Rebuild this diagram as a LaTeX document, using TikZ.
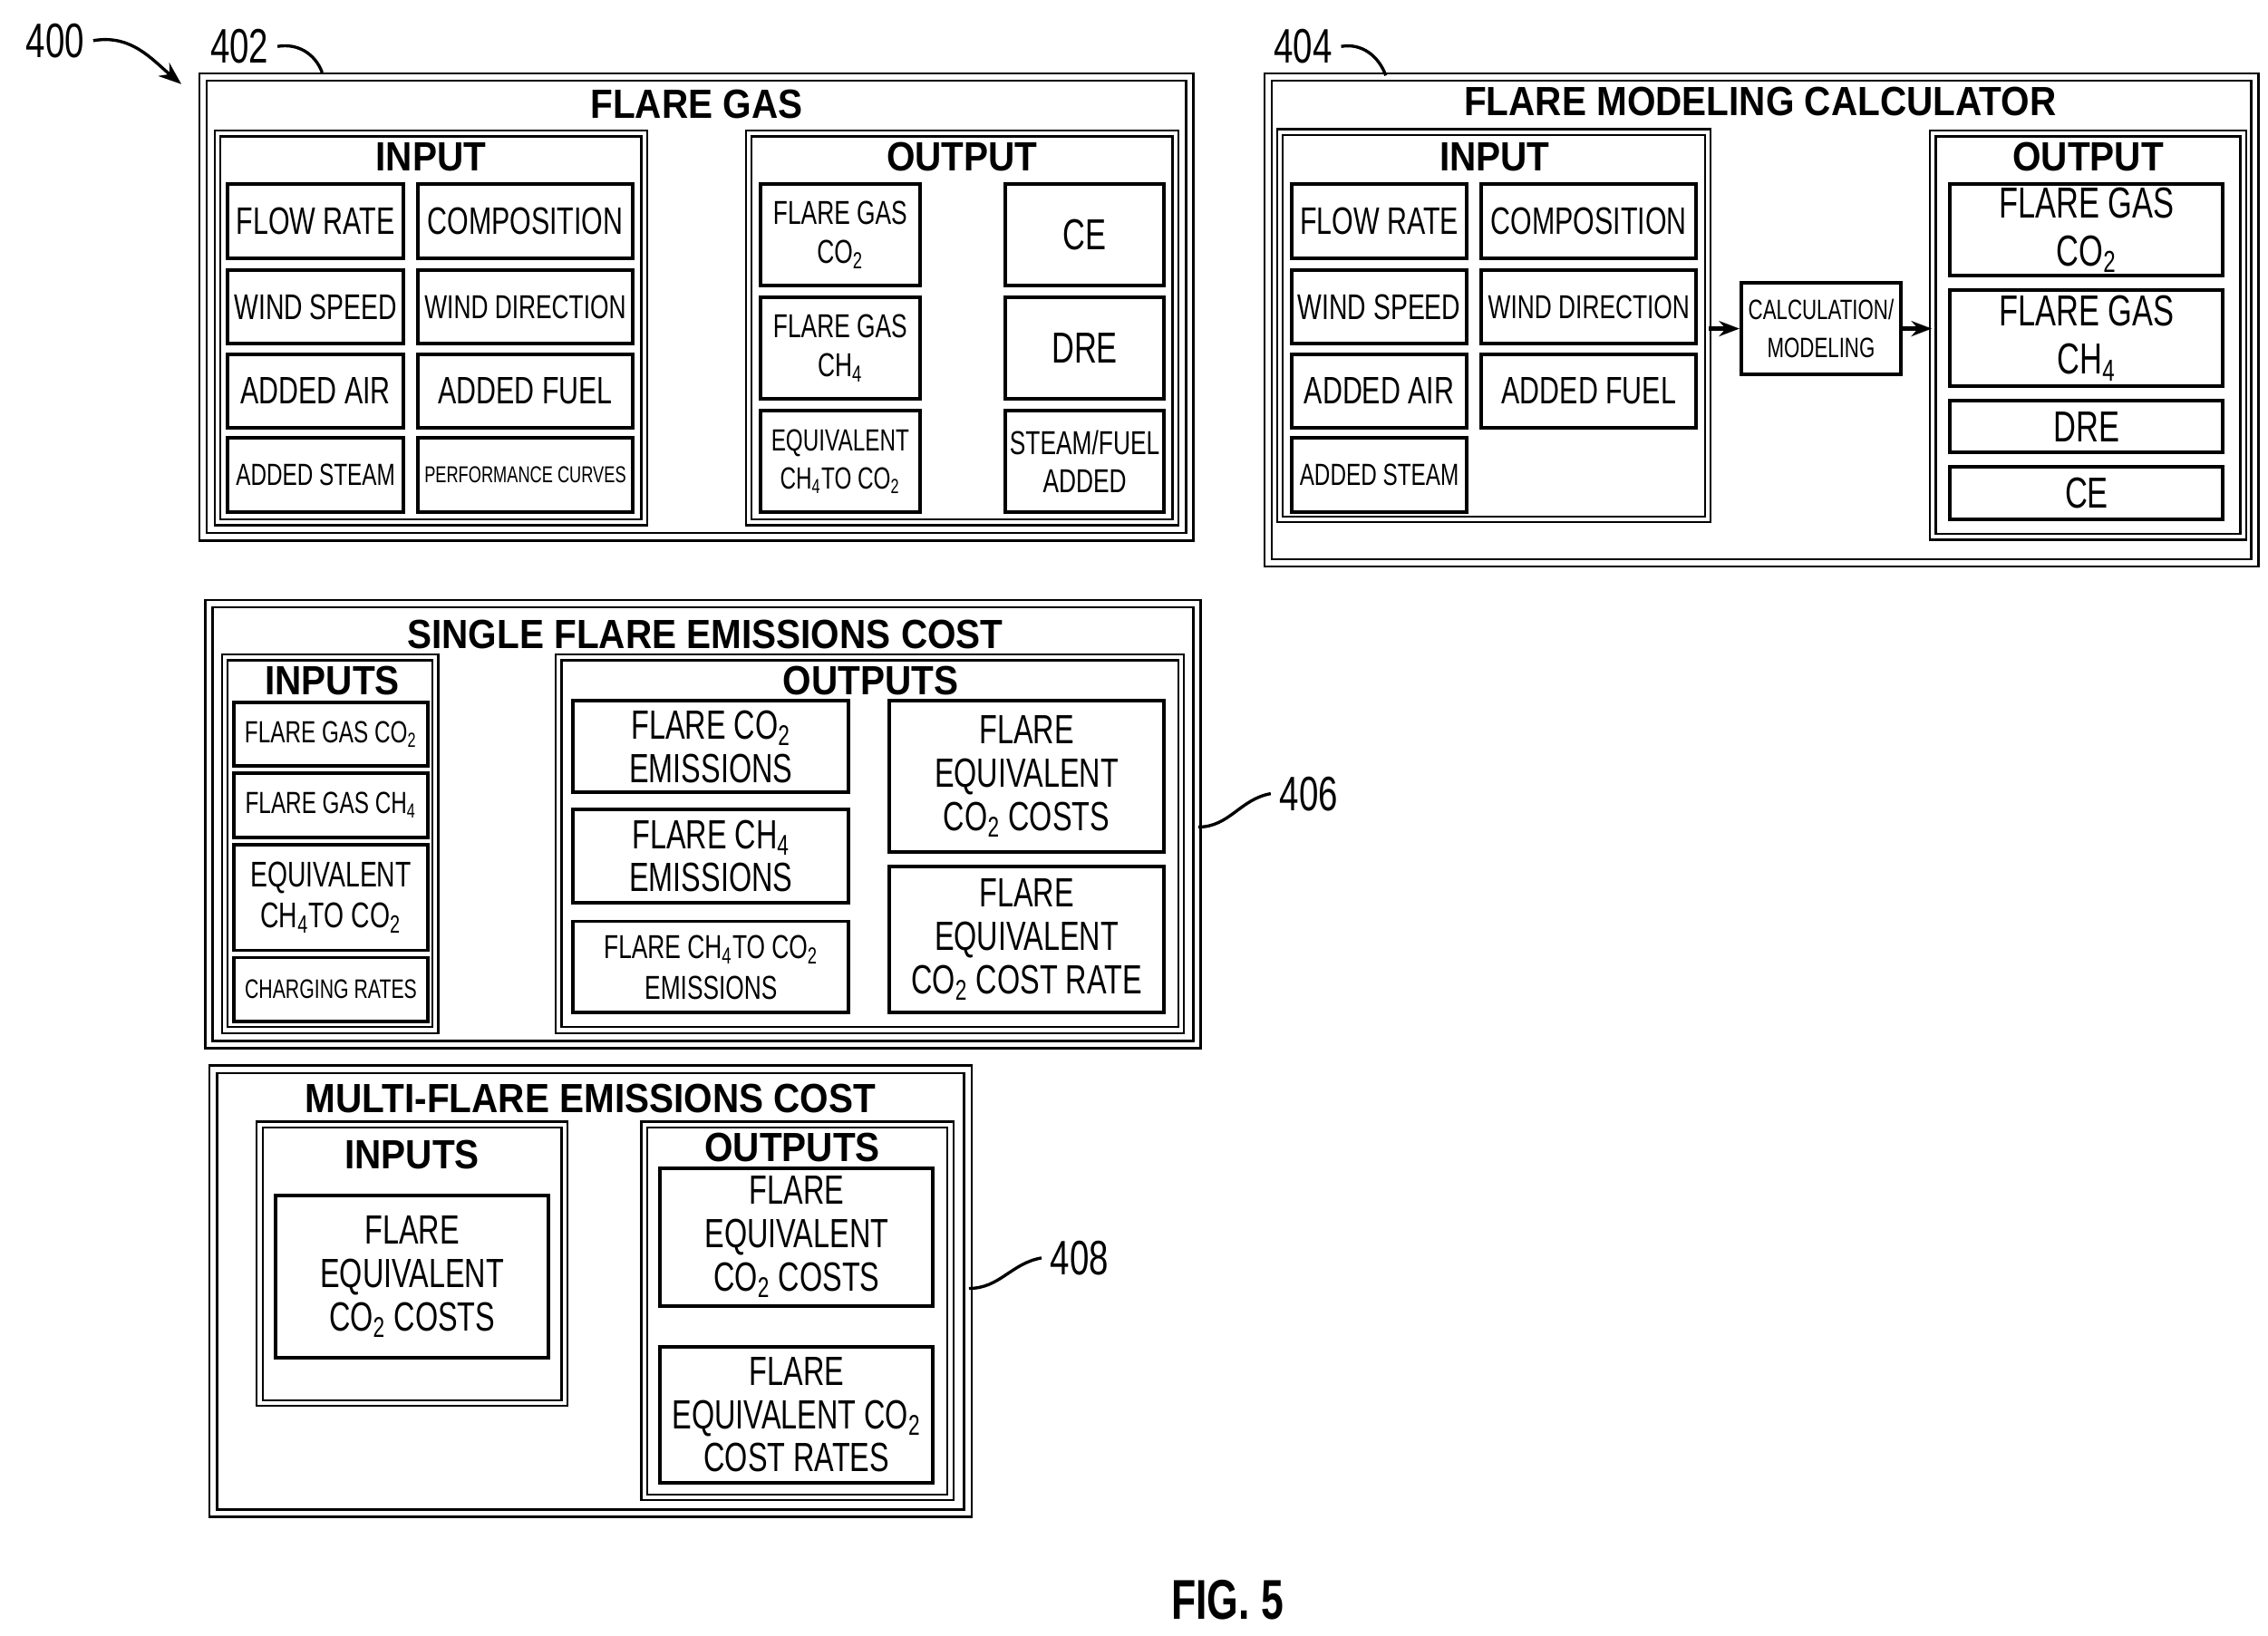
\documentclass[tikz,border=0pt]{standalone}
\usepackage{fontspec}
\setmainfont{Liberation Sans}[FakeStretch=0.72]
\newfontfamily\titlefont{Liberation Sans}[FakeStretch=0.9]
\usetikzlibrary{arrows.meta}
\newcommand{\cotwo}{CO\textsubscript{2}}
\newcommand{\chfour}{CH\textsubscript{4}}
% box from corner (x1,y1) to corner (x2,y2)
\newcommand{\cell}[7][]{%
  \pgfmathsetmacro\cw{(#5-#3)*0.02}\pgfmathsetmacro\ch{(#6-#4)*0.02}%
  \node[cell,#1,minimum width=\cw cm,minimum height=\ch cm] (#2) at ({(#3+#5)/2},{(#4+#6)/2}) {#7};}

\begin{document}
\begin{tikzpicture}[x=0.02cm,y=-0.02cm,
  cell/.style={draw,line width=1.4pt,inner sep=0pt,align=center,font=\fontsize{15}{16}\selectfont},
  group/.style={cell,line width=0.8pt,double,double distance=1.5pt},
  panel/.style={cell,line width=0.9pt,double,double distance=2pt},
  head/.style={font=\titlefont\bfseries\fontsize{16}{17}\selectfont},
  ref/.style={font=\fontsize{19}{20}\selectfont}]
  \useasboundingbox (0,0) rectangle (1563,1127);

  %% FLARE GAS
  \cell[panel]{fg}{140}{53}{820}{370}{}
  \node[head] (fgT) at (480,72) {FLARE GAS};
  \cell[group]{fgIn}{150}{92}{444}{360}{}
  \node[head] at (297,108) {INPUT};
  \cell{fgA}{157}{127}{278}{178}{FLOW RATE}
  \cell{fgB}{288}{127}{436}{178}{COMPOSITION}
  \cell[font=\fontsize{14}{15}\selectfont]{fgC}{157}{186}{278}{237}{WIND SPEED}
  \cell[font=\fontsize{13}{15}\selectfont]{fgD}{288}{186}{436}{237}{WIND DIRECTION}
  \cell{fgE}{157}{244}{278}{295}{ADDED AIR}
  \cell{fgF}{288}{244}{436}{295}{ADDED FUEL}
  \cell[font=\fontsize{12}{13}\selectfont]{fgG}{157}{302}{278}{353}{ADDED STEAM}
  \cell[font=\fontsize{9}{11}\selectfont]{fgH}{288}{302}{436}{353}{PERFORMANCE CURVES}
  \cell[group]{fgOut}{516}{92}{810}{360}{}
  \node[head] at (663,108) {OUTPUT};
  \cell[font=\fontsize{13}{15}\selectfont]{fgI}{524}{127}{634}{197}{FLARE GAS\\\cotwo}
  \cell[font=\fontsize{13}{15}\selectfont]{fgJ}{524}{205}{634}{275}{FLARE GAS\\\chfour}
  \cell[font=\fontsize{12}{15}\selectfont]{fgK}{524}{283}{634}{353}{EQUIVALENT\\\chfour TO \cotwo}
  \cell[font=\fontsize{17}{18}\selectfont]{fgL}{693}{127}{802}{197}{CE}
  \cell[font=\fontsize{17}{18}\selectfont]{fgM}{693}{205}{802}{275}{DRE}
  \cell[font=\fontsize{13}{15}\selectfont]{fgN}{693}{283}{802}{353}{STEAM/FUEL\\ADDED}

  %% FLARE MODELING CALCULATOR
  \cell[panel]{fm}{874}{53}{1554}{388}{}
  \node[head] at (1213,70) {FLARE MODELING CALCULATOR};
  \cell[group]{fmIn}{882}{91}{1177}{358}{}
  \node[head] at (1030,108) {INPUT};
  \cell{fmA}{890}{127}{1011}{178}{FLOW RATE}
  \cell{fmB}{1021}{127}{1169}{178}{COMPOSITION}
  \cell[font=\fontsize{14}{15}\selectfont]{fmC}{890}{186}{1011}{237}{WIND SPEED}
  \cell[font=\fontsize{13}{15}\selectfont]{fmD}{1021}{186}{1169}{237}{WIND DIRECTION}
  \cell{fmE}{890}{244}{1011}{295}{ADDED AIR}
  \cell{fmF}{1021}{244}{1169}{295}{ADDED FUEL}
  \cell[font=\fontsize{12}{13}\selectfont]{fmG}{890}{302}{1011}{353}{ADDED STEAM}
  \cell[font=\fontsize{11}{15}\selectfont]{calc}{1200}{195}{1310}{258}{CALCULATION/\\MODELING}
  \cell[group]{fmOut}{1332}{92}{1546}{370}{}
  \node[head] at (1439,108) {OUTPUT};
  \cell[font=\fontsize{17}{19}\selectfont]{fmH}{1344}{127}{1532}{190}{FLARE GAS\\\cotwo}
  \cell[font=\fontsize{17}{19}\selectfont]{fmI}{1344}{200}{1532}{266}{FLARE GAS\\\chfour}
  \cell[font=\fontsize{17}{18}\selectfont]{fmJ}{1344}{276}{1532}{312}{DRE}
  \cell[font=\fontsize{17}{18}\selectfont]{fmK}{1344}{322}{1532}{358}{CE}
  \draw[-{Stealth[length=8pt]},line width=1.5pt] (fmIn.east|-calc) -- (calc);
  \draw[-{Stealth[length=8pt]},line width=1.5pt] (calc) -- (fmOut.west|-calc);

  %% SINGLE FLARE EMISSIONS COST
  \cell[panel]{sf}{144}{416}{825}{720}{}
  \node[head] at (486,437) {SINGLE FLARE EMISSIONS COST};
  \cell[group]{sfIn}{155}{453}{300}{710}{}
  \node[head] at (229,469) {INPUTS};
  \cell[font=\fontsize{12}{13}\selectfont]{sfA}{161}{484}{295}{528}{FLARE GAS \cotwo}
  \cell[font=\fontsize{12}{13}\selectfont]{sfB}{161}{533}{295}{577}{FLARE GAS \chfour}
  \cell[font=\fontsize{14}{16}\selectfont]{sfC}{161}{582}{295}{655}{EQUIVALENT\\\chfour TO \cotwo}
  \cell[font=\fontsize{10.5}{12}\selectfont]{sfD}{161}{660}{295}{704}{CHARGING RATES}
  \cell[group]{sfOut}{385}{453}{814}{710}{}
  \node[head] at (600,469) {OUTPUTS};
  \cell[font=\fontsize{16}{17}\selectfont]{sfE}{395}{483}{585}{546}{FLARE \cotwo\\EMISSIONS}
  \cell[font=\fontsize{16}{17}\selectfont]{sfF}{395}{558}{585}{622}{FLARE \chfour\\EMISSIONS}
  \cell[font=\fontsize{13}{16}\selectfont]{sfG}{395}{635}{585}{698}{FLARE \chfour TO \cotwo\\EMISSIONS}
  \cell[font=\fontsize{16}{17}\selectfont]{sfH}{613}{483}{802}{587}{FLARE\\EQUIVALENT\\\cotwo{} COSTS}
  \cell[font=\fontsize{16}{17}\selectfont]{sfI}{613}{597}{802}{698}{FLARE\\EQUIVALENT\\\cotwo{} COST RATE}

  %% MULTI-FLARE EMISSIONS COST
  \cell[panel]{mf}{147}{737}{667}{1043}{}
  \node[head] at (407,757) {MULTI-FLARE EMISSIONS COST};
  \cell[group]{mfIn}{179}{775}{389}{967}{}
  \node[head] at (284,796) {INPUTS};
  \cell[font=\fontsize{16}{17}\selectfont]{mfA}{190}{824}{378}{936}{FLARE\\EQUIVALENT\\\cotwo{} COSTS}
  \cell[group]{mfOut}{444}{775}{655}{1032}{}
  \node[head] at (546,791) {OUTPUTS};
  \cell[font=\fontsize{16}{17}\selectfont]{mfB}{455}{805}{643}{900}{FLARE\\EQUIVALENT\\\cotwo{} COSTS}
  \cell[font=\fontsize{16}{17}\selectfont]{mfC}{455}{928}{643}{1022}{FLARE\\EQUIVALENT \cotwo\\COST RATES}

  %% reference numerals
  \node[ref] (r400) at (38,28) {400};
  \node[ref] (r402) at (165,32) {402};
  \node[ref] (r404) at (898,32) {404};
  \node[ref] (r406) at (902,547) {406};
  \node[ref] (r408) at (744,867) {408};
  \coordinate (c400) at (125,58);
  \draw[-{Stealth[length=9pt]},line width=1.2pt] (r400.east) to[out=10,in=140] (c400);
  \draw[line width=1.2pt] (r402.east) to[out=10,in=110] (222,50);
  \draw[line width=1.2pt] (r404.east) to[out=10,in=110] (955,52);
  \draw[line width=1.2pt] (sf.east|-0,570) to[out=0,in=190] (r406.west);
  \draw[line width=1.2pt] (mf.east|-0,888) to[out=0,in=190] (r408.west);
  \node[font=\bfseries\fontsize{22}{24}\selectfont] (fig) at (846,1103) {FIG. 5};
\end{tikzpicture}
\end{document}
